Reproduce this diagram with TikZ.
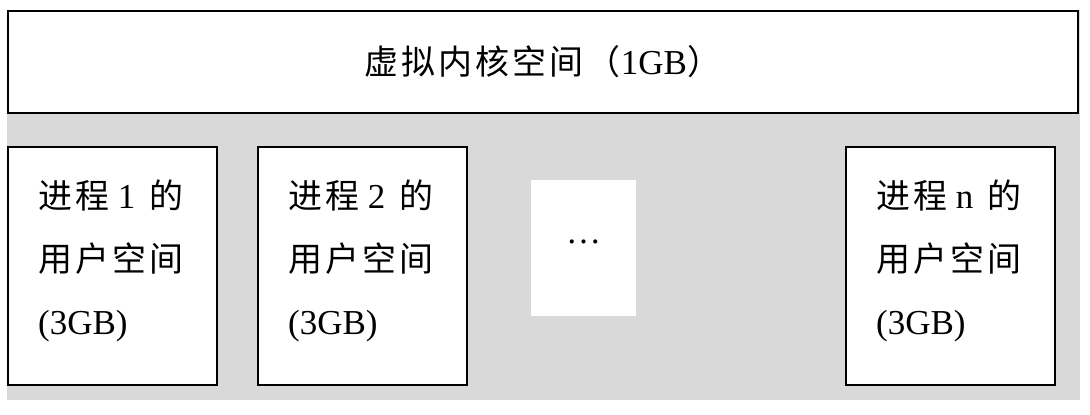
\documentclass[tikz,border=0pt]{standalone}
\usepackage{fontspec}
\setmainfont{Liberation Serif}
\newfontfamily\cjk[Scale=0.97, LetterSpace=9]{Noto Sans CJK SC}
\newcommand{\cn}[1]{{\cjk #1}}
\definecolor{bggray}{HTML}{D9D9D9}
\begin{document}
\begin{tikzpicture}[x=1pt, y=-1pt,
		box/.style={draw, line width=2pt, fill=white, inner sep=0pt},
		proc/.style={box, anchor=north west, minimum width=209pt, minimum height=238pt},
		proctext/.style={anchor=base west, inner sep=0pt, align=left,
			font=\fontsize{35}{63}\selectfont},
		]
	\useasboundingbox (0,0) rectangle (1090,415);
	\fill[bggray] (7,10) rectangle (1080,400);
	\node [box, anchor=north west, minimum width=1070pt, minimum height=102pt] (kernel) at (7,10) {};
	\node [font=\fontsize{35}{40}\selectfont, anchor=base] (ktext) at ([yshift=-12pt]kernel.center)
		{\cn{虚拟内核空间（}1GB\cn{）}};
	% process boxes
	\node [proc] (p1) at (7,146) {};
	\node [proc] (p2) at (257,146) {};
	\node [proc] (pn) at (845,146) {};
	\node [proctext] (t1) at ([shift={(31,188)}]p1.north west)
		{\cn{进程} 1\hspace{5pt} \cn{的}\\ \cn{用户空间}\\ (3GB)};
	\node [proctext] (t2) at ([shift={(31,188)}]p2.north west)
		{\cn{进程} 2\hspace{5pt} \cn{的}\\ \cn{用户空间}\\ (3GB)};
	\node [proctext] (tn) at ([shift={(31,188)}]pn.north west)
		{\cn{进程} n\hspace{5pt} \cn{的}\\ \cn{用户空间}\\ (3GB)};
	% gap
	\node [fill=white, anchor=north west, minimum width=105pt, minimum height=136pt] (dots) at (531,180) {};
	\node [font=\fontsize{35}{40}\selectfont] (ell) at ([yshift=6pt]dots.center) {\ldots};
\end{tikzpicture}
\end{document}
